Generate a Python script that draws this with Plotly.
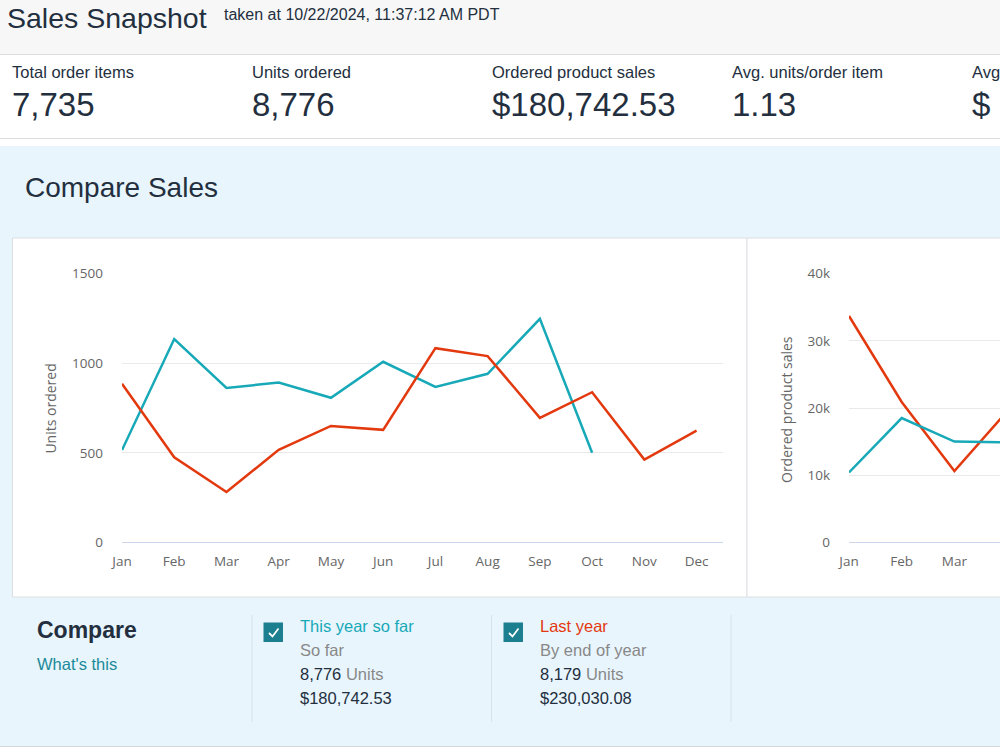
import plotly.graph_objects as go

W, H = 1000, 750

months = ["Jan", "Feb", "Mar", "Apr", "May", "Jun", "Jul", "Aug", "Sep", "Oct", "Nov", "Dec"]

# Units ordered
units_this_year = [515, 1135, 862, 892, 807, 1008, 868, 941, 1248, 500]
units_last_year = [885, 475, 281, 516, 650, 628, 1084, 1040, 695, 838, 462, 624]

# Ordered product sales (only Jan-Apr visible in the snapshot)
sales_months = ["Jan", "Feb", "Mar", "Apr"]
sales_this_year = [10400, 18500, 15000, 14900]
sales_last_year = [33700, 20900, 10600, 19500]

units_ticks = [0, 500, 1000, 1500]
sales_ticks = [0, 10000, 20000, 30000, 40000]
sales_ticktext = ["0", "10k", "20k", "30k", "40k"]

# KPI strip (last column is cut off by the window edge in the snapshot)
kpi_labels = ["Total order items", "Units ordered", "Ordered product sales",
              "Avg. units/order item", "Avg"]
kpi_values = ["7,735", "8,776", "$180,742.53", "1.13", "$"]

TEAL = "#18a9b8"
RED = "#e3390f"
DARK = "#232f3e"
TICK = "#666666"
FONT = "Arial, Liberation Sans, sans-serif"
CHART_FONT = "Open Sans, sans-serif"


def px(x):
    return x / W


def py(y):
    return 1 - y / H


fig = go.Figure()

fig.add_trace(go.Scatter(x=list(range(len(units_this_year))), y=units_this_year, mode="lines",
                         line=dict(color=TEAL, width=2.5), xaxis="x", yaxis="y",
                         name="This year so far", showlegend=False))
fig.add_trace(go.Scatter(x=list(range(len(units_last_year))), y=units_last_year, mode="lines",
                         line=dict(color=RED, width=2.5), xaxis="x", yaxis="y",
                         name="Last year", showlegend=False))
fig.add_trace(go.Scatter(x=list(range(len(sales_last_year))), y=sales_last_year, mode="lines",
                         line=dict(color=RED, width=2.5), xaxis="x2", yaxis="y2",
                         name="Last year", showlegend=False))
fig.add_trace(go.Scatter(x=list(range(len(sales_this_year))), y=sales_this_year, mode="lines",
                         line=dict(color=TEAL, width=2.5), xaxis="x2", yaxis="y2",
                         name="This year so far", showlegend=False))

y_dom = [py(542.3), py(273.7)]
axis_common = dict(showgrid=False, ticks="", tickfont=dict(family=CHART_FONT, size=13.5, color=TICK),
                   showline=True, linecolor="#ccd6eb", linewidth=1, zeroline=False,
                   fixedrange=True, ticklabelstandoff=6, automargin=False)
yaxis_common = dict(showgrid=True, gridcolor="#e9e9e9", gridwidth=1, zeroline=False, ticks="",
                    tickfont=dict(family=CHART_FONT, size=13.5, color=TICK), showline=False,
                    fixedrange=True, ticklabelstandoff=18, automargin=False)

fig.update_layout(
    width=W, height=H,
    margin=dict(l=0, r=0, t=0, b=0, pad=0),
    paper_bgcolor="white",
    plot_bgcolor="rgba(0,0,0,0)",
    showlegend=False,
    xaxis=dict(domain=[px(122), px(722.7)], range=[0, 11.5], type="linear",
               tickmode="array", tickvals=list(range(12)), ticktext=months, **axis_common),
    yaxis=dict(domain=y_dom, range=[0, 1500], tickmode="array", tickvals=units_ticks,
               ticktext=[str(v) for v in units_ticks], anchor="x", **yaxis_common),
    xaxis2=dict(domain=[px(849), 1.0], range=[0, (1000 - 849) / 52.7], type="linear",
                tickmode="array", tickvals=list(range(len(sales_months))), ticktext=sales_months,
                anchor="y2", **axis_common),
    yaxis2=dict(domain=y_dom, range=[0, 40000], tickmode="array", tickvals=sales_ticks,
                ticktext=sales_ticktext, anchor="x2", **yaxis_common),
)

shapes = []


def rect(x0, y0, x1, y1, fill, line_color=None, lw=0):
    shapes.append(dict(type="rect", xref="paper", yref="paper",
                       x0=px(x0), x1=px(x1), y0=py(y1), y1=py(y0),
                       fillcolor=fill, line=dict(color=line_color or fill, width=lw),
                       layer="below"))


def hline(x0, x1, y, color, w=1):
    shapes.append(dict(type="line", xref="paper", yref="paper", x0=px(x0), x1=px(x1),
                       y0=py(y), y1=py(y), line=dict(color=color, width=w), layer="below"))


def vline(x, y0, y1, color, w=1):
    shapes.append(dict(type="line", xref="paper", yref="paper", x0=px(x), x1=px(x),
                       y0=py(y0), y1=py(y1), line=dict(color=color, width=w), layer="below"))


# header band and KPI strip separators
rect(0, 0, 1000, 54, "#f7f7f7")
hline(0, 1000, 54.5, "#dddddd")
hline(0, 1000, 138.5, "#dddddd")
# light-blue compare area
rect(0, 146, 1000, 746, "#e8f5fd")
hline(0, 1000, 746.5, "#d5d9dc")
# chart panels
rect(12.5, 238, 747, 597, "white", "#dcdfe2", 1)
rect(747, 238, 1003, 597, "white", "#dcdfe2", 1)
# dividers in the compare legend
for xv in [252, 491.5, 731]:
    vline(xv, 615, 722, "#d9e2e8")
# checkboxes
for cx in [263.5, 503.5]:
    rect(cx, 622.5, cx + 19.5, 642, "#1b7f8f")
    shapes.append(dict(type="path", xref="paper", yref="paper",
                       path="M {} {} L {} {} L {} {}".format(
                           px(cx + 5.5), py(633), px(cx + 9), py(636.5), px(cx + 15), py(628.5)),
                       line=dict(color="white", width=1.8), layer="above"))

fig.update_layout(shapes=shapes)

ann = []


def text(x, y, s, size, color, family=FONT, anchor="left", angle=0):
    ann.append(dict(xref="paper", yref="paper", x=px(x), y=py(y), text=s, showarrow=False,
                    xanchor=anchor, yanchor="middle", textangle=angle,
                    font=dict(family=family, size=size, color=color)))


text(5, 18, "Sales Snapshot", 28.5, DARK)
text(222, 14, "taken at 10/22/2024, 11:37:12 AM PDT", 16, DARK)

kpi_x = [10, 250, 490, 730, 970]
for xk, lab, val in zip(kpi_x, kpi_labels, kpi_values):
    text(xk, 72, lab, 16.5, DARK)
    text(xk, 104, val, 33, DARK)

text(23, 188, "Compare Sales", 28, DARK)

text(50.8, 408.8, "Units ordered", 14, TICK, family=CHART_FONT, anchor="center", angle=-90)
text(785.8, 409.2, "Ordered product sales", 14, TICK, family=CHART_FONT, anchor="center", angle=-90)

text(35, 630, "<b>Compare</b>", 23, DARK)
text(35, 664, "What's this", 16.5, "#1a8a99")

legend_blocks = [
    (298, "This year so far", TEAL, "So far", "8,776", "$180,742.53"),
    (538, "Last year", RED, "By end of year", "8,179", "$230,030.08"),
]
for lx, title, col, sub, units, dollars in legend_blocks:
    text(lx, 626, title, 16.5, col)
    text(lx, 650, sub, 16.5, "#888888")
    text(lx, 674, units + " <span style='color:#888888'>Units</span>", 16.5, DARK)
    text(lx, 698, dollars, 16.5, DARK)

fig.update_layout(annotations=ann)

fig.write_html("out.html")
